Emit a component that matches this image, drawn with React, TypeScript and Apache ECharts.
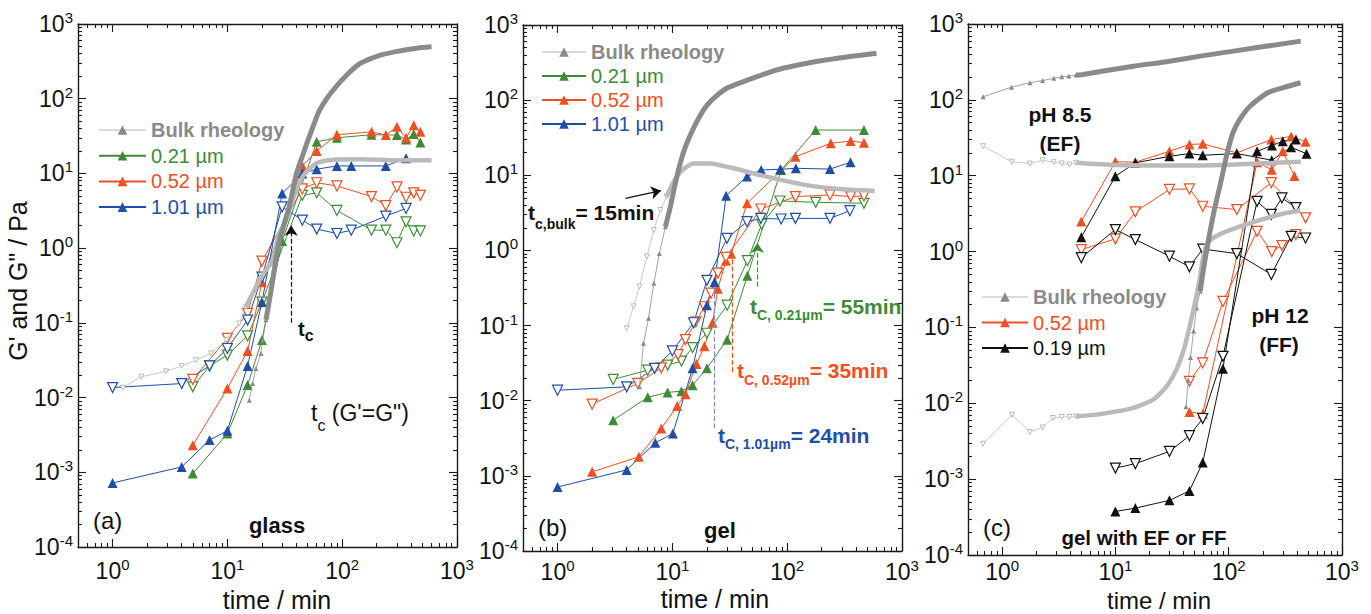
import React, { useEffect, useRef } from "react";
import * as echarts from "echarts";

type P = [number, number];

const FONT = '"Liberation Sans", Arial, Helvetica, sans-serif';
const C_GREEN = "#3d8b37";
const C_RED = "#f04e23";
const C_BLUE = "#1e4fa5";
const C_DARK = "#8a8a8a";
const C_LIGHT = "#bababa";
const C_BLACK = "#111111";
const C_AXIS = "#1a1a1a";

// ---------- tick values ----------
const X_MAJOR = [1, 10, 100, 1000];
const X_MINOR = [0.6, 0.7, 0.8, 0.9, 2, 3, 4, 5, 6, 7, 8, 9, 20, 30, 40, 50, 60, 70, 80, 90, 200, 300, 400, 500, 600, 700, 800, 900];
const Y_MAJOR = [1e-4, 1e-3, 1e-2, 1e-1, 1, 10, 100, 1000];
const Y_MINOR = [
  0.0002, 0.0003, 0.0004, 0.0005, 0.0006, 0.0007, 0.0008, 0.0009,
  0.002, 0.003, 0.004, 0.005, 0.006, 0.007, 0.008, 0.009,
  0.02, 0.03, 0.04, 0.05, 0.06, 0.07, 0.08, 0.09,
  0.2, 0.3, 0.4, 0.5, 0.6, 0.7, 0.8, 0.9,
  2, 3, 4, 5, 6, 7, 8, 9,
  20, 30, 40, 50, 60, 70, 80, 90,
  200, 300, 400, 500, 600, 700, 800, 900,
];

// ---------- panel (a) glass ----------
const A_BULK_GP_SPARSE: P[] = [[15.5, 0.0092], [16.6, 0.0154], [17.7, 0.0245], [19.6, 0.039], [20.3, 0.059], [21.7, 0.11]];
const A_BULK_GP_DENSE: P[] = [[21.7, 0.11], [24, 0.27], [28, 1.16], [34.6, 3.6], [40, 10], [45, 17], [50, 27], [55, 40], [62, 65], [70, 90], [80, 120], [100, 180], [140, 290], [200, 370], [300, 430], [450, 475], [600, 495]];
const A_BULK_GPP_SPARSE: P[] = [[1.23, 0.0136], [1.78, 0.019], [2.93, 0.0225], [4, 0.0265], [5.34, 0.0316], [7.2, 0.039], [9.75, 0.059], [12.7, 0.098], [14.5, 0.164]];
const A_BULK_GPP_DENSE: P[] = [[14.5, 0.164], [17.7, 0.3], [20.5, 0.45], [24.8, 0.69], [28, 1.5], [32.4, 2.37], [37, 4.4], [45, 9], [59, 13.6], [88, 15.4], [150, 15.5], [300, 15], [600, 15]];
const A_BLUE_GP: P[] = [[1, 7.2e-4], [4, 1.18e-3], [7, 2.7e-3], [10, 3.6e-3], [15, 0.0265], [20, 0.19], [30, 5.4], [45, 10], [60, 11.4], [90, 12.6], [120, 12.6], [240, 12.6], [360, 16]];
const A_BLUE_GPP: P[] = [[1, 0.0136], [4, 0.0154], [7, 0.0266], [10, 0.0454], [15, 0.109], [20, 0.41], [30, 3.57], [45, 2.37], [60, 1.8], [90, 1.57], [120, 1.74], [240, 2.68], [360, 3.4]];
const A_RED_GP: P[] = [[5, 2.3e-3], [10, 0.0132], [15, 0.042], [20, 0.35], [45, 12.6], [60, 20], [90, 33], [180, 36], [240, 32.6], [300, 42], [360, 30], [420, 44], [480, 36]];
const A_RED_GPP: P[] = [[5, 0.0175], [10, 0.062], [15, 0.134], [20, 0.67], [45, 6.2], [60, 7.5], [90, 6.8], [180, 4.9], [240, 3.7], [300, 6.6], [360, 4.8], [420, 5.5], [480, 5.1]];
const A_GREEN_GP: P[] = [[5, 9.6e-4], [10, 3.3e-3], [15, 0.0147], [20, 0.059], [30, 1.25], [60, 26.5], [90, 30], [180, 33], [300, 32.6], [360, 28.5], [420, 33.6], [480, 26]];
const A_GREEN_GPP: P[] = [[5, 0.0139], [7, 0.0265], [10, 0.037], [15, 0.067], [20, 0.19], [45, 5.1], [60, 5.5], [90, 3.2], [180, 1.74], [240, 1.74], [300, 1.18], [360, 2.25], [420, 1.7], [480, 1.7]];
const A_TC_LINE: P[] = [[36, 0.1], [36, 2.0]];

// ---------- panel (b) gel ----------
const B_BULK_GP_SPARSE: P[] = [[5.17, 0.0153], [5.6, 0.058], [6.2, 0.125], [6.9, 0.365], [7.7, 0.91], [8.7, 2.07]];
const B_BULK_GP_DENSE: P[] = [[8.7, 2.07], [9.6, 3.82], [10.6, 7.8], [11.7, 14.4], [13, 24], [15, 40], [18.7, 74], [22, 100], [30, 145], [47.5, 190], [70, 235], [92, 266], [180, 326], [354, 380], [600, 420]];
const B_BULK_GPP_SPARSE: P[] = [[4.0, 0.092], [4.6, 0.18], [5.17, 0.33], [6.0, 0.83], [6.9, 1.87], [7.87, 3.45], [8.9, 5.2]];
const B_BULK_GPP_DENSE: P[] = [[8.9, 5.2], [9.9, 7.4], [11.8, 11.2], [15.3, 14.4], [21.3, 14.4], [34, 12.4], [66, 9.6], [148, 7.4], [307, 6.5], [580, 6.2]];
const B_BLUE_GP: P[] = [[1, 7.1e-4], [4, 1.2e-3], [7.1, 2.75e-3], [10.1, 3.67e-3], [15, 0.027], [20, 0.187], [23.3, 0.38], [29.4, 5.35], [44.7, 9.6], [59.3, 11.8], [86.9, 12], [119, 12.4], [236, 12.1], [356, 14.9]];
const B_BLUE_GPP: P[] = [[1, 0.0138], [4, 0.0153], [7, 0.027], [10, 0.046], [15.3, 0.109], [20, 0.4], [29.9, 1.45], [44.7, 2.41], [59, 2.67], [88.6, 2.62], [118, 2.67], [236, 2.67], [352, 3.38]];
const B_RED_GP: P[] = [[2, 1.13e-3], [5.1, 1.79e-3], [8, 4.27e-3], [11, 8.5e-3], [13, 0.0122], [16.2, 0.0307], [19, 0.053], [22.4, 0.109], [24.9, 0.31], [29.3, 0.73], [32.5, 0.9], [44.7, 4.24], [118, 17.7], [240, 26.7], [357, 28.6], [466, 27.2]];
const B_RED_GPP: P[] = [[2, 9.0e-3], [5, 0.017], [8, 0.0274], [11.2, 0.041], [13, 0.065], [16, 0.112], [19, 0.178], [21.7, 0.27], [24.9, 0.5], [29.3, 0.81], [59, 3.56], [118, 5.2], [236, 5.47], [357, 5.2], [466, 5.3]];
const B_GREEN_GP: P[] = [[3.05, 5.5e-3], [6.1, 0.0111], [9.1, 0.0129], [12, 0.0134], [15, 0.0161], [20, 0.027], [30, 0.065], [45, 0.46], [88.6, 11.8], [177, 40], [466, 40]];
const B_GREEN_GPP: P[] = [[3.05, 0.0192], [6.1, 0.0255], [9.1, 0.0298], [12, 0.0337], [15, 0.051], [20, 0.079], [30, 0.187], [45, 0.73], [60, 2.23], [86.5, 4.55], [177, 4.37], [466, 4.24]];
const B_BULK_ARROW: P[] = [[3.9, 4.94], [7.97, 6.24]];
const B_TC_GREEN: P[] = [[55, 0.33], [55, 1.26]];
const B_TC_RED: P[] = [[33.5, 0.024], [33.5, 0.9]];
const B_TC_BLUE: P[] = [[23.3, 0.0043], [23.3, 0.35]];

// ---------- panel (c) gel with EF or FF ----------
const C_BULK85_GP_SPARSE: P[] = [[0.68, 110], [1.21, 147], [1.76, 168], [2.28, 180], [2.86, 192], [3.36, 202], [3.88, 206], [4.5, 212]];
const C_BULK85_GP_DENSE: P[] = [[4.5, 212], [5.16, 216], [14.4, 278], [28.2, 318], [56, 377], [110, 439], [433, 595]];
const C_BULK85_GPP_SPARSE: P[] = [[0.68, 24.5], [1.22, 15.3], [1.76, 14.5], [2.28, 16], [2.86, 15.1], [3.36, 14.5], [3.93, 14], [4.5, 14.8]];
const C_BULK85_GPP_DENSE: P[] = [[4.5, 14.8], [10, 13.8], [30, 13.6], [100, 14], [433, 15.3]];
const C_BULK12_GP_SPARSE: P[] = [[42, 0.009], [44, 0.02], [46, 0.04], [49, 0.09], [52, 0.18], [56, 0.3]];
const C_BULK12_GP_DENSE: P[] = [[56, 0.3], [60, 0.6], [65, 1.2], [70, 2.2], [76, 4], [84, 7.5], [97, 20], [110, 38], [130, 60], [155, 83], [220, 124], [300, 144], [430, 168]];
const C_BULK12_GPP_SPARSE: P[] = [[0.68, 2.93e-3], [1.22, 7.08e-3], [1.76, 4.18e-3], [2.28, 4.8e-3], [2.8, 6.4e-3], [3.36, 6.6e-3], [3.93, 6.6e-3], [4.5, 6.7e-3]];
const C_BULK12_GPP_DENSE: P[] = [[4.5, 6.7e-3], [7.3, 7.2e-3], [14.4, 8.7e-3], [21.6, 0.0112], [28.3, 0.0167], [34.6, 0.028], [40, 0.05], [45, 0.1], [50, 0.2], [55, 0.4], [60, 0.9], [66, 1.35], [84, 1.7], [145, 2.3], [287, 3.1], [430, 3.5]];
const C_RED85_GP: P[] = [[5, 2.5], [10, 15.3], [15, 15.1], [30, 21], [45, 25.8], [59, 26.3], [118, 20], [238, 30], [356, 33], [477, 28]];
const C_RED85_GPP: P[] = [[5, 1.06], [10, 1.47], [15, 3.34], [30, 6.6], [45, 6.7], [59, 3.96], [118, 3.58], [238, 8.1], [477, 2.78]];
const C_RED12_GP: P[] = [[45, 7.7e-3], [59, 7.3e-3], [178, 15], [240, 12], [300, 21], [380, 9.9]];
const C_RED12_GPP: P[] = [[45, 0.0195], [59, 0.034], [89, 0.22], [178, 1.85], [240, 1.0], [295, 1.2], [392, 1.68]];
const C_BLK85_GP: P[] = [[5, 1.55], [10, 9.85], [15, 14.8], [30, 18], [45, 19.6], [59, 18.6], [118, 19.6], [240, 16], [355, 23.7], [486, 19.5]];
const C_BLK85_GPP: P[] = [[5, 0.83], [10, 1.95], [15, 1.44], [30, 0.87], [45, 0.63], [59, 1.08], [118, 0.94], [238, 0.5], [356, 1.59], [477, 1.51]];
const C_BLK12_GP: P[] = [[10, 3.75e-4], [15, 4.15e-4], [30, 5.25e-4], [45, 7.0e-4], [59, 1.66e-3], [89, 0.0286], [178, 21], [241, 25], [300, 28.5], [392, 30]];
const C_BLK12_GPP: P[] = [[10, 1.4e-3], [15, 1.6e-3], [30, 2.32e-3], [45, 3.74e-3], [59, 6.3e-3], [89, 0.0416], [178, 4.6], [238, 3.1], [295, 5.1], [392, 3.8]];

// ---------- layout ----------
const GRIDS = [
  { left: 78, top: 24, width: 379, height: 523 },
  { left: 523, top: 25, width: 379, height: 526 },
  { left: 968, top: 24, width: 374, height: 531 },
];
const X_LABEL_MARGIN = [9.5, 6.5, 2.5];

const RICH = {
  b: { fontSize: 23, fontFamily: FONT, color: C_BLACK, lineHeight: 28 },
  s: { fontSize: 15, fontFamily: FONT, color: C_BLACK, lineHeight: 14, verticalAlign: "top" },
};
const powFmt = (v: number) => `{b|10}{s|${Math.round(Math.log10(v))}}`;

function axisSet(dim: "x" | "y", g: number) {
  const isX = dim === "x";
  const min = isX ? 0.5 : 1e-4;
  const max = 1000;
  const major = isX ? X_MAJOR : Y_MAJOR;
  const minor = isX ? X_MINOR : Y_MINOR;
  const sides = isX ? ["bottom", "top"] : ["left", "right"];
  const out: any[] = [];
  sides.forEach((pos, si) => {
    [true, false].forEach((isMajor) => {
      out.push({
        type: "log",
        logBase: 10,
        gridIndex: g,
        position: pos,
        min,
        max,
        axisLine: { show: isMajor, onZero: false, lineStyle: { color: C_AXIS, width: 1.4 } },
        axisTick: {
          show: true,
          inside: true,
          length: isMajor ? 8 : 4,
          customValues: isMajor ? major : minor,
          lineStyle: { color: C_AXIS, width: 1.1 },
        },
        axisLabel:
          si === 0 && isMajor
            ? { show: true, customValues: major, formatter: powFmt, rich: RICH, margin: isX ? X_LABEL_MARGIN[g] : 5 }
            : { show: false },
        splitLine: { show: false },
        minorTick: { show: false },
        minorSplitLine: { show: false },
      });
    });
  });
  return out;
}

function exp(name: string, data: P[], g: number, color: string, filled: boolean): any {
  return {
    type: "line",
    name,
    data,
    xAxisIndex: g * 4,
    yAxisIndex: g * 4,
    symbol: "triangle",
    symbolSize: 10,
    symbolRotate: filled ? 0 : 180,
    itemStyle: filled ? { color } : { color: "#ffffff", borderColor: color, borderWidth: 1.2 },
    lineStyle: { color, width: 1 },
    z: 3,
    silent: true,
  };
}

function bulkSparse(name: string, data: P[], g: number, color: string, filled: boolean): any {
  return {
    type: "line",
    name,
    data,
    xAxisIndex: g * 4,
    yAxisIndex: g * 4,
    symbol: "triangle",
    symbolSize: 5,
    symbolRotate: filled ? 0 : 180,
    itemStyle: filled ? { color } : { color: "#ffffff", borderColor: color, borderWidth: 1 },
    lineStyle: { color, width: 0.8 },
    z: 4,
    silent: true,
  };
}

function bulkDense(name: string, data: P[], g: number, color: string, width: number): any {
  return {
    type: "line",
    name,
    data,
    xAxisIndex: g * 4,
    yAxisIndex: g * 4,
    symbol: "none",
    smooth: 0.2,
    lineStyle: { color, width },
    z: 5,
    silent: true,
  };
}

function guide(name: string, pts: P[], g: number, color: string, arrow: boolean, dashed: boolean): any {
  return {
    type: "line",
    name,
    data: [],
    xAxisIndex: g * 4,
    yAxisIndex: g * 4,
    silent: true,
    markLine: {
      silent: true,
      animation: false,
      symbol: ["none", arrow ? "arrow" : "none"],
      symbolSize: 10,
      label: { show: false },
      lineStyle: { color, width: 1.2, type: dashed ? "dashed" : "solid" },
      emphasis: { disabled: true },
      data: [[{ coord: pts[0] }, { coord: pts[1] }]],
    },
  };
}

function txt(text: string, x: number, y: number, size: number, o: any = {}): any {
  return {
    type: "text",
    x,
    y,
    rotation: o.rot || 0,
    silent: true,
    z: 100,
    style: {
      text,
      x: 0,
      y: 0,
      fontSize: size,
      fontFamily: FONT,
      fontWeight: o.bold ? "bold" : "normal",
      fill: o.color || C_BLACK,
      align: o.align || "left",
      verticalAlign: "middle",
    },
  };
}

// text with a subscript: main size mS centred at y, subscript size sS centred at y + off
function subTxt(text: string, x: number, y: number, mS: number, sS: number, off: number, o: any = {}): any {
  const mL = mS + 2;
  const sL = sS + 1;
  const dy = Math.max(0, off + mL / 2 - sL / 2);
  const fw = o.bold ? "bold" : "normal";
  const fill = o.color || C_BLACK;
  return {
    type: "text",
    x,
    y: y - mL / 2,
    silent: true,
    z: 100,
    style: {
      text,
      x: 0,
      y: 0,
      align: "left",
      verticalAlign: "top",
      fontFamily: FONT,
      fontSize: mS,
      fontWeight: fw,
      fill,
      rich: {
        m: { fontSize: mS, fontFamily: FONT, fontWeight: fw, fill, lineHeight: mL, verticalAlign: "top" },
        s: { fontSize: sS, fontFamily: FONT, fontWeight: fw, fill, lineHeight: sL, padding: [dy, 0, 0, 0], verticalAlign: "top" },
      },
    },
  };
}

function legendCfg(left: number, top: number, gap: number, iw: number, names: { n: string; c: string; b?: boolean }[]): any {
  return {
    orient: "vertical",
    left,
    top,
    padding: 0,
    itemGap: gap,
    itemWidth: iw,
    itemHeight: 12,
    selectedMode: false,
    textStyle: { fontSize: 20, fontFamily: FONT },
    data: names.map((d) => ({
      name: d.n,
      textStyle: { color: d.c, fontWeight: d.b ? "bold" : "normal", fontSize: 20, fontFamily: FONT },
      ...(d.b ? { lineStyle: { color: "#b5b5b5", width: 1 }, itemStyle: { color: C_DARK } } : {}),
    })),
  };
}

export default function App() {
  const ref = useRef<HTMLDivElement>(null);
  useEffect(() => {
    if (!ref.current) return;
    const chart = echarts.init(ref.current, undefined, { renderer: "svg" });
    const xAxis: any[] = [];
    const yAxis: any[] = [];
    [0, 1, 2].forEach((g) => {
      xAxis.push(...axisSet("x", g));
      yAxis.push(...axisSet("y", g));
    });

    const series: any[] = [
      // panel a
      exp("0.21 µm", A_GREEN_GP, 0, C_GREEN, true),
      exp("a 0.21 G''", A_GREEN_GPP, 0, C_GREEN, false),
      exp("0.52 µm", A_RED_GP, 0, C_RED, true),
      exp("a 0.52 G''", A_RED_GPP, 0, C_RED, false),
      exp("1.01 µm", A_BLUE_GP, 0, C_BLUE, true),
      exp("a 1.01 G''", A_BLUE_GPP, 0, C_BLUE, false),
      bulkSparse("Bulk rheology", A_BULK_GP_SPARSE, 0, C_DARK, true),
      bulkSparse("a bulk G'' sparse", A_BULK_GPP_SPARSE, 0, C_LIGHT, false),
      bulkDense("a bulk G'' dense", A_BULK_GPP_DENSE, 0, C_LIGHT, 4.5),
      bulkDense("a bulk G' dense", A_BULK_GP_DENSE, 0, C_DARK, 5),
      guide("a tc", A_TC_LINE, 0, C_BLACK, true, true),
      // panel b
      exp("b 0.21 G'", B_GREEN_GP, 1, C_GREEN, true),
      exp("b 0.21 G''", B_GREEN_GPP, 1, C_GREEN, false),
      exp("b 0.52 G'", B_RED_GP, 1, C_RED, true),
      exp("b 0.52 G''", B_RED_GPP, 1, C_RED, false),
      exp("b 1.01 G'", B_BLUE_GP, 1, C_BLUE, true),
      exp("b 1.01 G''", B_BLUE_GPP, 1, C_BLUE, false),
      bulkSparse("b bulk G' sparse", B_BULK_GP_SPARSE, 1, C_DARK, true),
      bulkSparse("b bulk G'' sparse", B_BULK_GPP_SPARSE, 1, C_LIGHT, false),
      bulkDense("b bulk G'' dense", B_BULK_GPP_DENSE, 1, C_LIGHT, 4.5),
      bulkDense("b bulk G' dense", B_BULK_GP_DENSE, 1, C_DARK, 5),
      guide("b arrow", B_BULK_ARROW, 1, C_BLACK, true, false),
      guide("b tc green", B_TC_GREEN, 1, C_GREEN, true, true),
      guide("b tc red", B_TC_RED, 1, C_RED, false, true),
      guide("b tc blue", B_TC_BLUE, 1, "#6f8fd0", false, true),
      // panel c
      exp("c 0.52 pH8.5 G'", C_RED85_GP, 2, C_RED, true),
      exp("c 0.52 pH8.5 G''", C_RED85_GPP, 2, C_RED, false),
      exp("c 0.52 pH12 G'", C_RED12_GP, 2, C_RED, true),
      exp("c 0.52 pH12 G''", C_RED12_GPP, 2, C_RED, false),
      exp("0.19 µm", C_BLK85_GP, 2, C_BLACK, true),
      exp("c 0.19 pH8.5 G''", C_BLK85_GPP, 2, C_BLACK, false),
      exp("c 0.19 pH12 G'", C_BLK12_GP, 2, C_BLACK, true),
      exp("c 0.19 pH12 G''", C_BLK12_GPP, 2, C_BLACK, false),
      bulkSparse("c bulk85 G' sparse", C_BULK85_GP_SPARSE, 2, C_DARK, true),
      bulkSparse("c bulk85 G'' sparse", C_BULK85_GPP_SPARSE, 2, C_LIGHT, false),
      bulkDense("c bulk85 G'' dense", C_BULK85_GPP_DENSE, 2, C_LIGHT, 4.5),
      bulkDense("c bulk85 G' dense", C_BULK85_GP_DENSE, 2, C_DARK, 5),
      bulkSparse("c bulk12 G'' sparse", C_BULK12_GPP_SPARSE, 2, C_LIGHT, false),
      bulkDense("c bulk12 G'' dense", C_BULK12_GPP_DENSE, 2, C_LIGHT, 4.5),
      bulkSparse("c bulk12 G' sparse", C_BULK12_GP_SPARSE, 2, C_DARK, true),
      bulkDense("c bulk12 G' dense", C_BULK12_GP_DENSE, 2, C_DARK, 5),
    ];

    const graphic: any[] = [
      txt("G' and G\" / Pa", 18, 281, 25, { align: "center", rot: Math.PI / 2 }),
      txt("time / min", 277, 600, 25, { align: "center" }),
      txt("time / min", 715, 599, 25, { align: "center" }),
      txt("time / min", 1159, 600, 24, { align: "center" }),
      // panel a
      subTxt("{m|t}{s|c}", 298, 330, 20, 16, 6, { bold: true }),
      subTxt("{m|t}{s|c}{m| (G'=G\")}", 311, 414, 23, 16, 12),
      txt("(a)", 93, 520, 24),
      txt("glass", 277, 525, 22, { bold: true, align: "center" }),
      // panel b
      subTxt("{m|t}{s|c,bulk}{m|= 15min}", 528, 213, 21, 14, 11, { bold: true }),
      subTxt("{m|t}{s|C, 0.21µm}{m|= 55min}", 750, 307, 21, 14, 8, { bold: true, color: C_GREEN }),
      subTxt("{m|t}{s|C, 0.52µm}{m|= 35min}", 737, 371, 21, 14, 9, { bold: true, color: C_RED }),
      subTxt("{m|t}{s|C, 1.01µm}{m|= 24min}", 718, 436, 21, 14, 8, { bold: true, color: C_BLUE }),
      txt("(b)", 538, 527, 24),
      txt("gel", 720, 530, 22, { bold: true, align: "center" }),
      // panel c
      txt("pH 8.5", 1060, 114, 21, { bold: true, align: "center" }),
      txt("(EF)", 1060, 143, 21, { bold: true, align: "center" }),
      txt("pH 12", 1280, 315, 21, { bold: true, align: "center" }),
      txt("(FF)", 1279, 344, 21, { bold: true, align: "center" }),
      txt("(c)", 983, 527, 24),
      txt("gel with EF or FF", 1144, 537, 20.5, { bold: true, align: "center" }),
    ];

    chart.setOption({
      animation: false,
      backgroundColor: "#ffffff",
      textStyle: { fontFamily: FONT },
      grid: GRIDS.map((g) => ({ ...g, containLabel: false, outerBoundsMode: "none" })),
      xAxis,
      yAxis,
      legend: [
        legendCfg(98, 120, 5.7, 47, [
          { n: "Bulk rheology", c: C_DARK, b: true },
          { n: "0.21 µm", c: C_GREEN },
          { n: "0.52 µm", c: C_RED },
          { n: "1.01 µm", c: C_BLUE },
        ]),
        legendCfg(541, 42, 4, 44, [
          { n: "Bulk rheology", c: C_DARK, b: true },
          { n: "0.21 µm", c: C_GREEN },
          { n: "0.52 µm", c: C_RED },
          { n: "1.01 µm", c: C_BLUE },
        ]),
        legendCfg(981, 287, 5.5, 46, [
          { n: "Bulk rheology", c: C_DARK, b: true },
          { n: "0.52 µm", c: C_RED },
          { n: "0.19 µm", c: C_BLACK },
        ]),
      ],
      series,
      graphic,
    });
    return () => chart.dispose();
  }, []);
  return (
    <div
      ref={ref}
      style={{ position: "fixed", left: 0, top: 0, width: 1371, height: 614, background: "#fff" }}
    />
  );
}
